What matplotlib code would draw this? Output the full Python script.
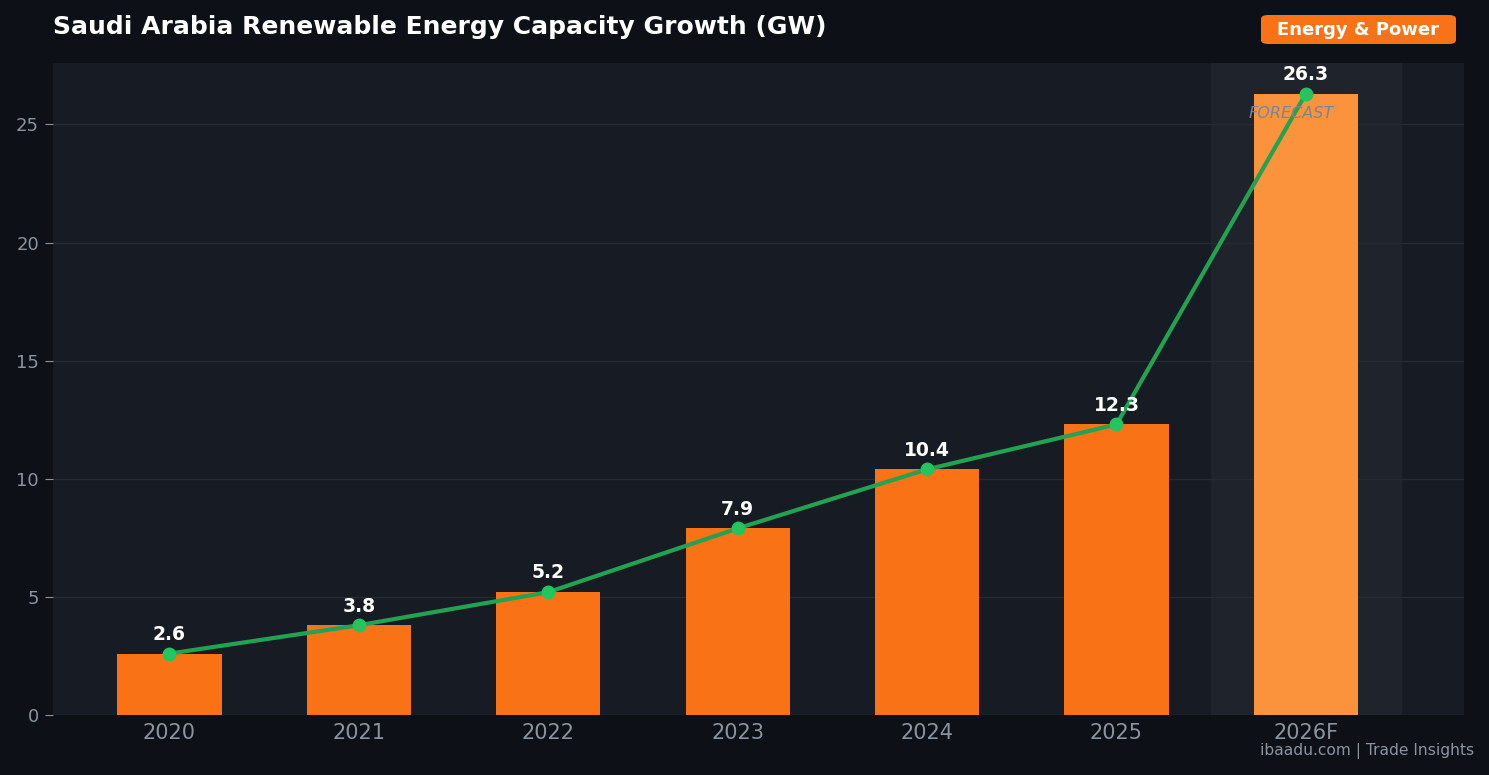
import matplotlib.pyplot as plt
from matplotlib.patches import FancyBboxPatch

years = ["2020", "2021", "2022", "2023", "2024", "2025", "2026F"]
capacity = [2.6, 3.8, 5.2, 7.9, 10.4, 12.3, 26.3]
forecast = [False, False, False, False, False, False, True]

fig = plt.figure(figsize=(14.89, 7.75), dpi=100)
fig.patch.set_facecolor("#0d1017")
ax = fig.add_axes([53 / 1489, 60 / 775, 1411 / 1489, 652 / 775])
ax.set_facecolor("#171b23")

x = list(range(len(years)))
colors = ["#fb923c" if f else "#f97316" for f in forecast]
ax.axvspan(5.5, 6.5, color="#1f232b", zorder=0)
ax.bar(x, capacity, width=0.55, color=colors, zorder=2)
ax.plot(x, capacity, color="#22a352", lw=3, marker="o", markersize=9,
        markerfacecolor="#22c55e", markeredgecolor="#22c55e", zorder=3)

for xi, v in zip(x, capacity):
    ax.annotate(f"{v}", (xi, v), xytext=(0, 7), textcoords="offset points",
                ha="center", va="bottom", color="white", fontsize=13.5,
                fontweight="bold", zorder=4)

ax.text(5.92, 25.45, "FORECAST", color="#7d8590", fontsize=11.5,
        style="italic", ha="center", va="center", zorder=4)

ax.set_xlim(-0.615, 6.835)
ax.set_ylim(0, 27.6)
ax.set_xticks(x)
ax.set_xticklabels(years)
ax.set_yticks([0, 5, 10, 15, 20, 25])
ax.tick_params(axis="x", length=0, labelsize=15, colors="#8b949e", pad=6)
ax.tick_params(axis="y", length=6, labelsize=13, colors="#8b949e", pad=4)
ax.grid(axis="y", color="#252a33", lw=1, zorder=1)
ax.set_axisbelow(True)
for s in ax.spines.values():
    s.set_visible(False)

fig.text(53 / 1489, 1 - 27 / 775, "Saudi Arabia Renewable Energy Capacity Growth (GW)",
         color="white", fontsize=18, fontweight="bold", ha="left", va="center")

badge = FancyBboxPatch((1261 / 1489, 1 - 44 / 775), 195 / 1489, 29 / 775,
                       boxstyle="round,pad=0,rounding_size=0.005",
                       transform=fig.transFigure, facecolor="#f97316",
                       edgecolor="none")
fig.patches.append(badge)
fig.text(1358 / 1489, 1 - 30 / 775, "Energy & Power", color="white",
         fontsize=13, fontweight="bold", ha="center", va="center")

fig.text(1474 / 1489, 1 - 751 / 775, "ibaadu.com | Trade Insights",
         color="#8b949e", fontsize=11.2, ha="right", va="center")

fig.savefig("out.png", dpi=100, facecolor=fig.get_facecolor())
